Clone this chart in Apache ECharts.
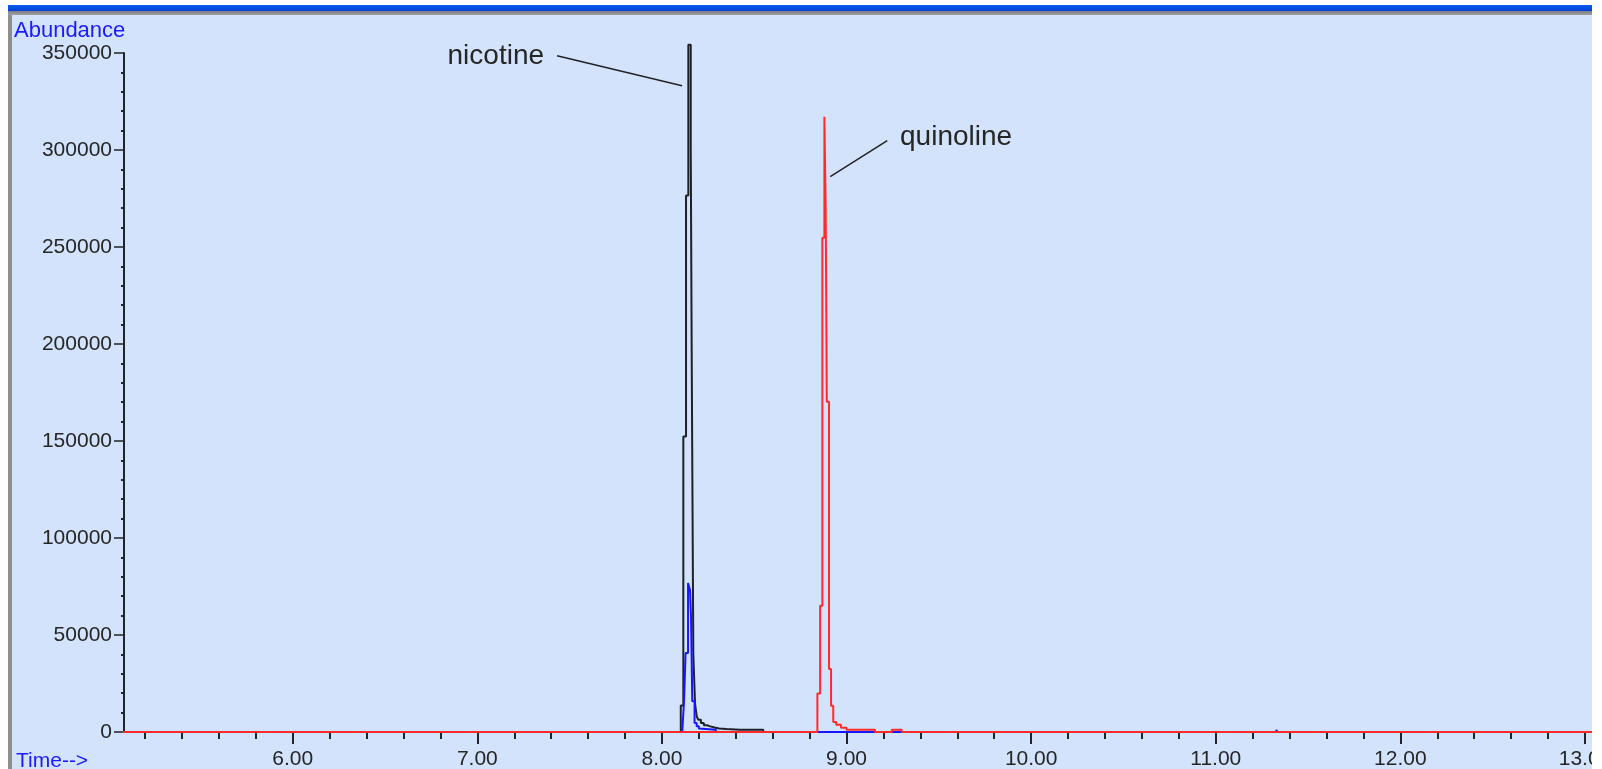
<!DOCTYPE html>
<html>
<head>
<meta charset="utf-8">
<script src="https://cdn.jsdelivr.net/npm/echarts@6/dist/echarts.min.js"></script>
<style>
  html, body { margin: 0; padding: 0; background: #ffffff; }
  #chart { width: 1602px; height: 769px; }
</style>
</head>
<body>
<div id="chart"></div>
<script>
// Each trace is a list of retention times (min) where the detector level changes,
// with the abundance it holds from that time until the next change.

// Total ion trace around the nicotine peak (black)
const nicotineTimes = [8.09, 8.102, 8.1158, 8.1305, 8.143, 8.156, 8.1614, 8.170, 8.1793,
  8.1885, 8.197, 8.211, 8.227, 8.244, 8.262, 8.285, 8.31, 8.35, 8.42, 8.549, 8.56];
const nicotineAbund = [0, 13600, 152300, 276500, 354300, 301000, 190200, 39800, 14600,
  8000, 6300, 4600, 3500, 2900, 2300, 1800, 1500, 1200, 1100, 0, 0];

// Extracted ion trace (blue)
const ionTimes = [8.11, 8.1197, 8.128, 8.1414, 8.1522, 8.1576, 8.1643, 8.1766, 8.188,
  8.200, 8.210, 8.292, 11.328, 11.334, 11.34];
const ionAbund = [0, 16000, 40700, 76800, 73000, 59500, 15800, 4600, 2900,
  1800, 1200, 0, 1100, 0, 0];

// Quinoline trace (red)
const quinolineTimes = [5.00, 8.842, 8.857, 8.869, 8.880, 8.887, 8.893, 8.905, 8.916,
  8.928, 8.944, 8.970, 9.000, 9.154, 9.245, 9.299, 13.10];
const quinolineAbund = [0, 19900, 65100, 254800, 317100, 269800, 170200, 32500, 13500,
  5100, 3800, 2200, 1100, 0, 1100, 0, 0];

// Axis ticks
const xTickValues = [6, 7, 8, 9, 10, 11, 12, 13];
const xTickLabels = ['6.00', '7.00', '8.00', '9.00', '10.00', '11.00', '12.00', '13.00'];
const yTickValues = [0, 50000, 100000, 150000, 200000, 250000, 300000, 350000];
const yTickLabels = ['0', '50000', '100000', '150000', '200000', '250000', '300000', '350000'];

// Peak names: where each name sits and the ends of its leader line (data units)
const peakNames = ['nicotine', 'quinoline'];
const peakNameAt = [[7.3613, 348100], [9.2897, 306350]];
const peakLeaderFrom = [[7.4318, 348600], [8.9117, 286230]];
const peakLeaderTo = [[8.1089, 333130], [9.2205, 304790]];

// Turn (time, level) change points into a stair-step polyline
function stairs(times, levels) {
  const pts = [[times[0], levels[0]]];
  for (let i = 1; i < times.length; i++) {
    pts.push([times[i], levels[i - 1]], [times[i], levels[i]]);
  }
  return pts;
}

// Minor x ticks every 0.2 min between the labelled ones
const X_MIN = 5.086, X_MAX = 13.038;
const xMinorTicks = [];
for (let m = 5; m <= 13; m++) {
  for (let k = 1; k <= 4; k++) {
    const v = Math.round((m + k * 0.2) * 10) / 10;
    if (v > X_MIN && v < X_MAX) xMinorTicks.push(v);
  }
}

const FONT = '"Liberation Sans", Arial, sans-serif';
const AXIS_TEXT = '#262626';
const INK = '#222427';

const chart = echarts.init(document.getElementById('chart'), null, { renderer: 'canvas' });

const tickStyle = { color: INK, width: 2 };

chart.setOption({
  animation: false,
  backgroundColor: '#ffffff',
  grid: {
    left: 124, right: 10, top: 53, bottom: 37,
    containLabel: false, outerBoundsMode: 'none'
  },
  xAxis: [
    {
      type: 'value', min: X_MIN, max: X_MAX,
      axisLine: { show: false },
      axisTick: { show: true, customValues: xTickValues, length: 12, lineStyle: tickStyle },
      axisLabel: {
        show: true, customValues: xTickValues, margin: 17,
        fontFamily: FONT, fontSize: 21, color: AXIS_TEXT,
        formatter: v => xTickLabels[xTickValues.indexOf(v)] ?? ''
      },
      splitLine: { show: false }
    },
    {
      type: 'value', min: X_MIN, max: X_MAX, position: 'bottom',
      axisLine: { show: false },
      axisTick: { show: true, customValues: xMinorTicks, length: 7, lineStyle: tickStyle },
      axisLabel: { show: false },
      splitLine: { show: false }
    }
  ],
  yAxis: {
    type: 'value', min: 0, max: 350000, interval: 50000,
    axisLine: { show: true, lineStyle: { color: INK, width: 2 } },
    axisTick: { show: true, length: 10, lineStyle: { color: INK, width: 1.5 } },
    minorTick: { show: true, splitNumber: 5, length: 3, lineStyle: { color: INK, width: 2 } },
    axisLabel: {
      margin: 12, fontFamily: FONT, fontSize: 21, color: AXIS_TEXT,
      formatter: v => yTickLabels[yTickValues.indexOf(v)] ?? ''
    },
    splitLine: { show: false }
  },
  series: [
    {
      name: 'nicotine', type: 'line', symbol: 'none',
      data: stairs(nicotineTimes, nicotineAbund), clip: false, z: 2,
      lineStyle: { color: '#1e2226', width: 2 }
    },
    {
      name: 'ion', type: 'line', symbol: 'none',
      data: stairs(ionTimes, ionAbund), clip: true, z: 3,
      lineStyle: { color: '#1717ff', width: 2 }
    },
    {
      name: 'quinoline', type: 'line', symbol: 'none',
      data: stairs(quinolineTimes, quinolineAbund), clip: true, z: 4,
      lineStyle: { color: '#ff2b2b', width: 2 }
    }
  ]
});

// Window frame, axis captions and peak names
const toPx = p => chart.convertToPixel({ gridIndex: 0 }, p);
const graphics = [
  { type: 'rect', silent: true, z: -10, shape: { x: 12, y: 15, width: 1580, height: 760 }, style: { fill: '#d3e3fb' } },
  { type: 'rect', silent: true, z: -9, shape: { x: 8, y: 11, width: 4, height: 760 }, style: { fill: '#8e8e8e' } },
  { type: 'rect', silent: true, z: -9, shape: { x: 8, y: 11, width: 1584, height: 4 },
    style: { fill: new echarts.graphic.LinearGradient(0, 0, 0, 1, [
      { offset: 0, color: '#7c8088' }, { offset: 1, color: '#a0a0a0' }]) } },
  { type: 'rect', silent: true, z: -9, shape: { x: 8, y: 5, width: 1584, height: 6 },
    style: { fill: new echarts.graphic.LinearGradient(0, 0, 0, 1, [
      { offset: 0, color: '#0a5ef0' }, { offset: 1, color: '#0040d4' }]) } },
  { type: 'rect', silent: true, z: 100, shape: { x: 1592, y: 0, width: 10, height: 769 }, style: { fill: '#ffffff' } },
  { type: 'text', silent: true, z: 50, style: { x: 14, y: 20, text: 'Abundance', fill: '#1a1aff',
    font: '22px ' + FONT, align: 'left', verticalAlign: 'top' } },
  { type: 'text', silent: true, z: 50, style: { x: 16, y: 751, text: 'Time-->', fill: '#1a1aff',
    font: '21px ' + FONT, align: 'left', verticalAlign: 'top' } }
];
peakNames.forEach((name, i) => {
  const at = toPx(peakNameAt[i]);
  const a = toPx(peakLeaderFrom[i]);
  const b = toPx(peakLeaderTo[i]);
  graphics.push({
    type: 'line', silent: true, z: 50,
    shape: { x1: a[0], y1: a[1], x2: b[0], y2: b[1] },
    style: { stroke: '#222222', lineWidth: 1.5 }
  });
  graphics.push({
    type: 'text', silent: true, z: 50,
    style: { x: at[0], y: at[1], text: name, fill: '#262626', font: '28px ' + FONT,
      align: i === 0 ? 'right' : 'left', verticalAlign: 'middle' }
  });
});
chart.setOption({ graphic: graphics });
</script>
</body>
</html>
